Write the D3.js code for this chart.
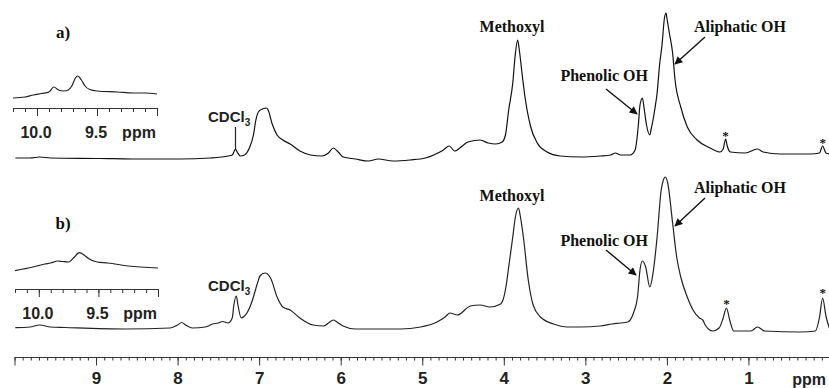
<!DOCTYPE html>
<html>
<head>
  <meta charset="utf-8">
  <script src="https://d3js.org/d3.v7.min.js"></script>
  <style>
    body { margin: 0; background: #fff; }
    .lbl { font-family: "Liberation Serif", "Times New Roman", serif; font-weight: bold; }
    .sans { font-family: "Liberation Sans", Arial, sans-serif; font-weight: bold; }
  </style>
</head>
<body>
<script>
// spectrum a) : chemical shift (ppm) and intensity (a.u.)
var ppmA = [9.99,9.81,9.69,9.56,8.95,8.55,7.97,7.60,7.38,7.33,7.31,7.29,7.27,7.23,7.18,7.12,7.07,7.04,7.01,6.96,6.91,6.89,6.84,6.78,6.71,6.62,6.50,6.37,6.23,6.15,6.09,6.03,5.97,5.82,5.66,5.54,5.36,5.15,4.96,4.86,4.74,4.67,4.60,4.51,4.44,4.29,4.19,4.10,4.02,3.98,3.94,3.89,3.86,3.83,3.81,3.77,3.74,3.67,3.59,3.47,3.31,3.06,2.82,2.69,2.63,2.57,2.45,2.39,2.35,2.33,2.30,2.28,2.25,2.21,2.19,2.17,2.15,2.12,2.09,2.06,2.03,2.01,2.00,1.97,1.93,1.90,1.83,1.75,1.63,1.47,1.35,1.31,1.28,1.26,1.22,1.04,0.89,0.82,0.61,0.24,0.13,0.09,0.05,0.00];
var intA = [2,2,3,2,1.5,1,1,2,4,5,8,11,8,4,5,12,25,40,48,51,52,50,36,25,20,16,9,5,4,7,12,8,3,1,-1,1,-1,0,2,5,10,14,9,14,18,20,17,16,18,25,50,77,105,120,110,82,63,33,17,8,4,3,4,5,7,5,5,10,35,55,62,52,35,25,32,40,50,67,95,115,142,147,142,127,107,80,53,33,20,12,8,11,21,14,8,7,11,8,6,6,7,14,7,6];

// spectrum b)
var ppmB = [9.99,9.81,9.69,9.56,9.38,8.64,8.09,8.00,7.95,7.90,7.82,7.66,7.57,7.50,7.45,7.38,7.33,7.31,7.28,7.26,7.22,7.18,7.15,7.09,7.02,6.99,6.93,6.86,6.78,6.71,6.62,6.50,6.34,6.21,6.15,6.09,6.03,5.97,5.82,5.52,5.27,5.02,4.82,4.72,4.66,4.57,4.41,4.29,4.17,4.04,4.01,3.97,3.94,3.89,3.86,3.82,3.80,3.76,3.70,3.64,3.55,3.39,3.22,3.06,2.82,2.67,2.57,2.48,2.41,2.36,2.33,2.30,2.26,2.21,2.17,2.12,2.07,2.05,2.02,1.99,1.93,1.88,1.83,1.75,1.68,1.60,1.56,1.53,1.44,1.36,1.31,1.27,1.23,1.18,0.97,0.89,0.80,0.36,0.18,0.13,0.09,0.05,0.00];
var intB = [2.3,3,5,3,2.5,1,2,5,7.5,5,2,3,6,7,8.5,7,12,25,34,25,12,14,17,28,47,54,57,52,33,23,20,12,5,4,7,10,7,4,1,1,1,3,8,13,17,15,24,25,23,26,30,45,63,93,112,122,115,93,50,25,13,6,3,3,4,6,7,8,17,33,60,69,63,43,57,93,140,148,153,147,107,73,53,33,20,12,10,5,-1,2,12,22,10,-1,-1,3,-1,-2,-1,12,32,14,0];

// insets, aldehyde region
var ppmInA = [10.20,10.10,10.03,9.96,9.90,9.86,9.82,9.78,9.74,9.71,9.68,9.66,9.63,9.60,9.56,9.50,9.33,9.20,9.10,9.00];
var intInA = [2,3,5,6.5,8,13,10,9,10,14,22,24,20,14,10.5,9,8,7,7,6];
var ppmInB = [10.20,10.05,9.95,9.90,9.84,9.80,9.75,9.71,9.66,9.62,9.59,9.51,9.42,9.25,9.00];
var intInB = [1.3,5,8,9,11,10.5,10,14,19.3,17,14,10,9,6,4];

var majorTicks = [1,2,3,4,5,6,7,8,9];
var insetTicks = ["10.0","9.5"];

var W = 829, H = 388;
var svg = d3.select("body").append("svg").attr("width", W).attr("height", H);

var x = d3.scaleLinear().domain([10, 0]).range([14.5, 830]);
var yA = d3.scaleLinear().domain([0, 150]).range([160, 10]);
var yB = d3.scaleLinear().domain([0, 150]).range([330, 180]);

function drawSpec(ppm, val, xs, ys, col) {
  var pts = ppm.map(function (p, i) { return [p, val[i]]; });
  var line = d3.line()
      .x(function (d) { return xs(d[0]); })
      .y(function (d) { return ys(d[1]); })
      .curve(d3.curveMonotoneX);
  svg.append("path").datum(pts)
    .attr("d", line)
    .attr("fill", "none")
    .attr("stroke", col)
    .attr("stroke-width", 1.2)
    .attr("stroke-linejoin", "round");
}

drawSpec(ppmA, intA, x, yA, "#111");
drawSpec(ppmB, intB, x, yB, "#222");

// main ppm axis
var axisY = 357;
var gMinor = svg.append("g").attr("transform", "translate(0," + axisY + ")")
  .call(d3.axisBottom(x).tickValues(d3.range(0, 101).map(function (d) { return d / 10; }))
        .tickSize(3.5).tickSizeOuter(0).tickFormat(""));
var gMajor = svg.append("g").attr("transform", "translate(0," + axisY + ")")
  .call(d3.axisBottom(x).tickValues([0, 10].concat(majorTicks)).tickSize(8.5).tickSizeOuter(0)
        .tickFormat(function (d) { return majorTicks.indexOf(d) >= 0 ? d : ""; }));
[gMinor, gMajor].forEach(function (g) {
  g.selectAll("path, line").attr("stroke", "#333").attr("stroke-width", 1);
});
gMajor.selectAll("text")
  .attr("class", "sans")
  .attr("y", 15)
  .attr("dy", "0.71em")
  .style("font-size", "17px")
  .attr("fill", "#222");
svg.append("text").attr("class", "sans")
  .attr("x", 826).attr("y", 385).attr("text-anchor", "end")
  .style("font-size", "16px").attr("fill", "#222").text("ppm");

// insets
function drawInset(ppm, val, x0, x1, base, axY) {
  var xi = d3.scaleLinear().domain([10.2, 9.0]).range([x0, x1]);
  var yi = d3.scaleLinear().domain([0, 30]).range([base, base - 30]);
  drawSpec(ppm, val, xi, yi, "#222");
  var g = svg.append("g").attr("transform", "translate(0," + axY + ")");
  g.call(d3.axisBottom(xi).tickValues(d3.range(90, 103).map(function (d) { return d / 10; }))
          .tickSize(4).tickSizeOuter(0).tickFormat(""));
  var g2 = svg.append("g").attr("transform", "translate(0," + axY + ")");
  g2.call(d3.axisBottom(xi).tickValues([10.0, 9.5, 9.0]).tickSize(8).tickSizeOuter(0).tickFormat(""));
  [g, g2].forEach(function (s) { s.selectAll("path, line").attr("stroke", "#333"); });
  insetTicks.forEach(function (t) {
    svg.append("text").attr("class", "sans")
      .attr("x", xi(+t) - 1).attr("y", axY + 30).attr("text-anchor", "middle")
      .style("font-size", "16px").attr("fill", "#222").text(t);
  });
  svg.append("text").attr("class", "sans")
    .attr("x", xi(9.15)).attr("y", axY + 30).attr("text-anchor", "middle")
    .style("font-size", "16px").attr("fill", "#222").text("ppm");
}
drawInset(ppmInA, intInA, 13, 157, 100, 108);
drawInset(ppmInB, intInB, 15, 158, 272, 289);

// arrow marker
svg.append("defs").append("marker")
  .attr("id", "ah").attr("viewBox", "0 0 10 10").attr("refX", 9).attr("refY", 5)
  .attr("markerWidth", 10).attr("markerHeight", 8).attr("markerUnits", "userSpaceOnUse")
  .attr("orient", "auto")
  .append("path").attr("d", "M0,0L10,5L0,10Z").attr("fill", "#111");

function arrow(x1, y1, x2, y2) {
  svg.append("line").attr("x1", x1).attr("y1", y1).attr("x2", x2).attr("y2", y2)
    .attr("stroke", "#111").attr("stroke-width", 1.4).attr("marker-end", "url(#ah)");
}

function label(txt, xx, yy, size, anchor, cls) {
  return svg.append("text").attr("class", cls || "lbl")
    .attr("x", xx).attr("y", yy + size * 0.35)
    .attr("text-anchor", anchor || "middle")
    .style("font-size", size + "px").attr("fill", "#111").text(txt);
}

function cdcl3(xx, yy) {
  var t = svg.append("text").attr("class", "sans").attr("x", xx).attr("y", yy + 5)
    .style("font-size", "15px").attr("fill", "#222");
  t.append("tspan").text("CDCl");
  t.append("tspan").attr("dy", 4).style("font-size", "10px").text("3");
}

// panel annotations
label("a)", 63, 32, 17);
label("b)", 63, 223, 17);
label("Methoxyl", 512, 26, 16);
label("Methoxyl", 512, 195, 16);
label("Phenolic OH", 648, 75, 16, "end");
label("Phenolic OH", 648, 240, 16, "end");
label("Aliphatic OH", 740, 26, 16);
label("Aliphatic OH", 740, 187, 16);
arrow(606, 89, 637, 114);
arrow(705, 37, 675, 64);
arrow(606, 250, 636, 275);
arrow(705, 198, 675, 226);

cdcl3(208, 117);
cdcl3(208, 286);
svg.append("line").attr("x1", x(7.29)).attr("x2", x(7.29))
  .attr("y1", 127).attr("y2", yA(11)).attr("stroke", "#222").attr("stroke-width", 1.2);

// impurity marks
label("*", x(1.28), yA(21) - 4, 13);
label("*", x(0.09), yA(14) - 4, 13);
label("*", x(1.27), yB(22) - 5, 13);
label("*", x(0.09), yB(32) - 6, 13);
</script>
</body>
</html>
